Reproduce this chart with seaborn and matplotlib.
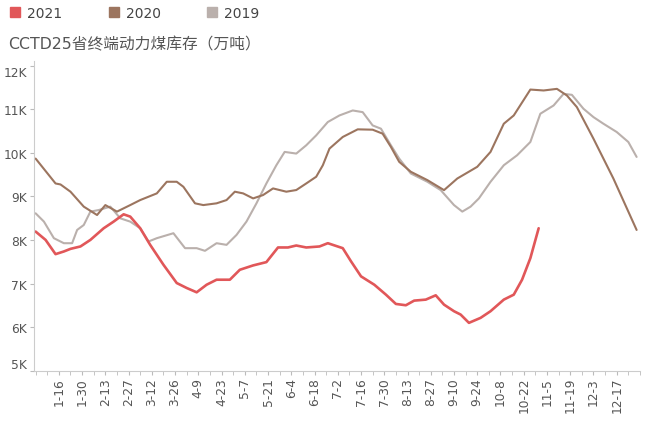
import pandas as pd
import numpy as np
import matplotlib
matplotlib.use('Agg')
import matplotlib.pyplot as plt
import seaborn as sns
from matplotlib.lines import Line2D
from matplotlib.ticker import FuncFormatter

# day of year (2020 calendar, 0 = Jan 1) and stock values (万吨)
days_2021 = [1, 7, 13, 18, 22, 28, 34, 42, 48, 54, 58, 64, 70, 78, 86, 92, 98, 104, 110, 118,
             124, 132, 140, 147, 153, 158, 164, 172, 177, 186, 191, 197, 205, 212, 218, 224, 229,
             236, 242, 247, 253, 257, 262, 269, 275, 283, 289, 294, 299, 304]
vals_2021 = [8192, 8001, 7674, 7735, 7795, 7850, 8001, 8268, 8421, 8588, 8535, 8268, 7887, 7430,
             7011, 6897, 6798, 6972, 7087, 7087, 7315, 7415, 7491, 7827, 7827, 7872, 7827, 7850,
             7925, 7811, 7507, 7164, 6972, 6744, 6531, 6501, 6607, 6630, 6729, 6515, 6364, 6287,
             6097, 6211, 6364, 6630, 6744, 7087, 7582, 8268]

days_2020 = [1, 13, 16, 22, 30, 38, 43, 50, 58, 64, 74, 80, 86, 90, 97, 102, 110, 116, 121, 126,
             132, 138, 144, 152, 158, 164, 170, 174, 178, 186, 195, 204, 210, 215, 220, 227, 237,
             247, 255, 267, 275, 283, 289, 299, 307, 315, 321, 327, 337, 349, 363]
vals_2020 = [9867, 9296, 9273, 9107, 8764, 8572, 8800, 8650, 8800, 8915, 9068, 9335, 9335, 9220,
             8840, 8800, 8840, 8915, 9107, 9068, 8953, 9030, 9182, 9107, 9145, 9296, 9450, 9714,
             10096, 10363, 10538, 10530, 10439, 10135, 9792, 9564, 9372, 9143, 9410, 9678, 10020,
             10667, 10857, 11451, 11430, 11467, 11315, 11049, 10324, 9410, 8229]

days_2019 = [1, 6, 12, 18, 23, 26, 30, 34, 39, 46, 52, 58, 64, 69, 74, 84, 91, 98, 103, 110, 116,
             122, 128, 134, 140, 146, 151, 158, 164, 170, 177, 184, 192, 198, 204, 209, 215, 220,
             227, 237, 245, 253, 258, 263, 268, 275, 283, 291, 299, 305, 313, 319, 324, 331, 337,
             343, 351, 358, 363]
vals_2019 = [8611, 8421, 8040, 7925, 7925, 8229, 8343, 8650, 8686, 8764, 8496, 8420, 8268, 7964,
             8040, 8154, 7811, 7811, 7750, 7925, 7887, 8115, 8421, 8839, 9296, 9714, 10020, 9982,
             10172, 10400, 10706, 10857, 10971, 10933, 10628, 10553, 10172, 9867, 9525, 9334,
             9143, 8800, 8650, 8764, 8953, 9334, 9714, 9943, 10248, 10896, 11086, 11353, 11330,
             11010, 10819, 10667, 10477, 10248, 9905]

years = ['2021', '2020', '2019']
colors = {'2021': '#E15759', '2020': '#9C755F', '2019': '#BAB0AC'}
tick_labels = ['1-16', '1-30', '2-13', '2-27', '3-12', '3-26', '4-9', '4-23', '5-7', '5-21',
               '6-4', '6-18', '7-2', '7-16', '7-30', '8-13', '8-27', '9-10', '9-24', '10-8',
               '10-22', '11-5', '11-19', '12-3', '12-17']

sns.set_style('white')
plt.rcParams['font.family'] = ['DejaVu Sans', 'Noto Sans CJK SC']

data = pd.concat([
    pd.DataFrame({'day': days_2019, 'value': vals_2019, 'year': '2019'}),
    pd.DataFrame({'day': days_2020, 'value': vals_2020, 'year': '2020'}),
    pd.DataFrame({'day': days_2021, 'value': vals_2021, 'year': '2021'}),
])

fig = plt.figure(figsize=(6.53, 4.31), dpi=100)
ax = fig.add_axes([0.052, 0.1377, 0.928, 0.7178])
sns.lineplot(data=data, x='day', y='value', hue='year', hue_order=['2019', '2020', '2021'],
             palette=colors, ax=ax, legend=False, linewidth=1.5)
ax.lines[-1].set_linewidth(1.9)

ax.set_xlim(0, 365)
ax.set_ylim(5000, 12100)
ticks = [pd.Timestamp('2020-' + t).dayofyear - 1 for t in tick_labels]
ax.set_xticks(ticks)
ax.set_xticklabels(tick_labels, rotation=90)
ax.set_xticks(np.arange(1, 366, 7), minor=True)
ax.set_yticks(np.arange(5000, 12001, 1000))
ax.yaxis.set_major_formatter(FuncFormatter(lambda v, p: f'{int(v / 1000)}K'))
ax.set_xlabel('')
ax.set_ylabel('')

for s in ['top', 'right']:
    ax.spines[s].set_visible(False)
for s in ['left', 'bottom']:
    ax.spines[s].set_color('#cccccc')
    ax.spines[s].set_linewidth(0.8)
ax.tick_params(axis='both', which='both', color='#bbbbbb', labelcolor='#555555', labelsize=8.8)
ax.tick_params(axis='x', which='both', length=3, pad=1.5, bottom=True)
ax.tick_params(axis='y', length=3, pad=2, left=True)

ylabs = ax.get_yticklabels()
ylabs[0].set_va('bottom')
ylabs[-1].set_va('top')

fig.text(8 / 653, 1 - 45 / 431, 'CCTD25省终端动力煤库存（万吨）', fontsize=11.3,
         color='#555555', va='center')

handles = [Line2D([], [], marker='s', linestyle='', markersize=7, color=colors[y]) for y in years]
leg = fig.legend(handles, years, loc='upper left', bbox_to_anchor=(0.006, 0.997), ncol=3,
                 frameon=False, fontsize=10, handlelength=0.8, handletextpad=0.47,
                 columnspacing=3.3, borderaxespad=0)
for t in leg.get_texts():
    t.set_color('#444444')

fig.savefig('out.png', dpi=100)
